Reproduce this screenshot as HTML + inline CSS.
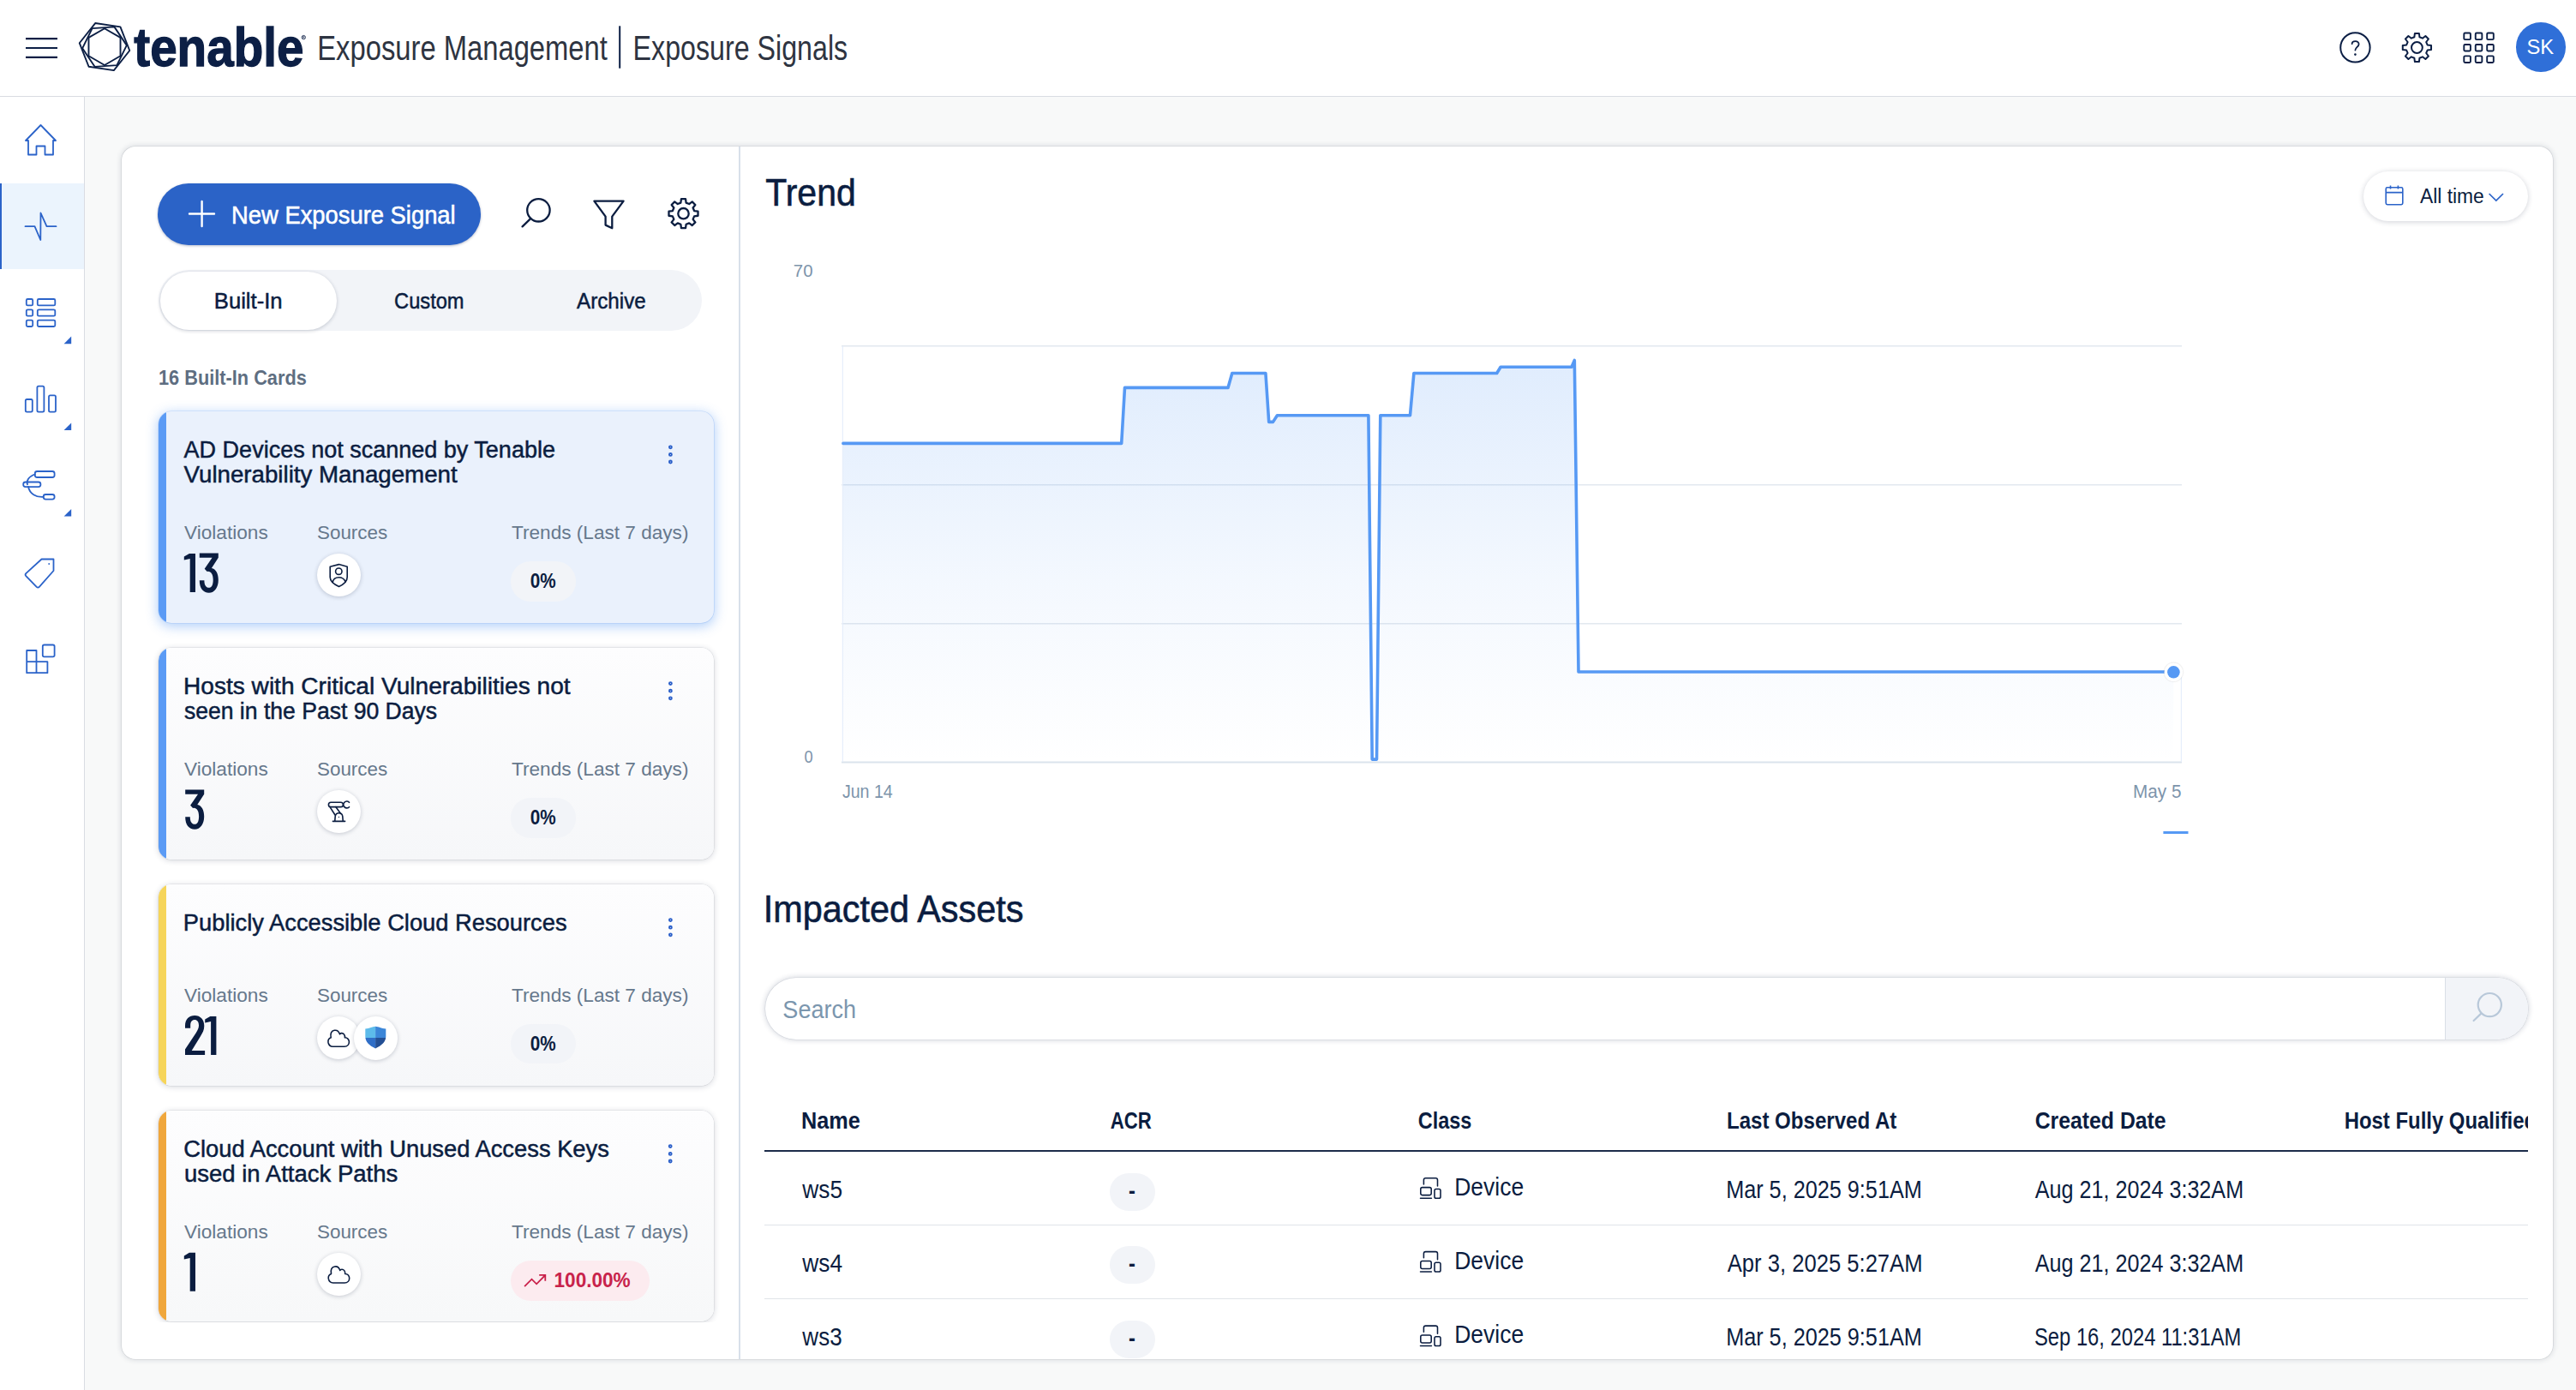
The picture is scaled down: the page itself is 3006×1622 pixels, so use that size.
<!DOCTYPE html>
<html><head><meta charset="utf-8"><title>Exposure Signals</title>
<style>
html,body{margin:0;padding:0;overflow:hidden;}
body{width:3006px;height:1622px;overflow:hidden;background:#f8f9f9;position:relative;font-family:"Liberation Sans",sans-serif;}
div{position:absolute;box-sizing:border-box;}
svg{position:absolute;left:0;top:0;}
</style></head><body>
<div style="left:0px;top:0px;width:3006px;height:112px;background:#fff"></div>
<div style="left:0px;top:112px;width:3006px;height:1px;background:#d9dce2"></div>
<div style="left:0px;top:113px;width:98px;height:1509px;background:#fff"></div>
<div style="left:98px;top:113px;width:1px;height:1509px;background:#d9dce2"></div>
<div style="left:0px;top:214px;width:98px;height:100px;background:#ebf4fd"></div>
<div style="left:0px;top:214px;width:1.6px;height:100px;background:#2b63c9"></div>
<div style="left:2936px;top:26px;width:57.5px;height:57.5px;background:#2f6fd8;border-radius:50%"></div>
<div style="left:142px;top:171px;width:2837px;height:1415px;background:#fff;border-radius:16px;box-shadow:0 0 0 0.6px rgba(30,40,60,0.12),0 0 6px 1px rgba(30,40,70,0.14)"></div>
<div style="left:862.3px;top:171px;width:1.6px;height:1415px;background:#d8e0ea"></div>
<div style="left:184px;top:214px;width:377px;height:72px;background:#2b63c7;border-radius:36px;box-shadow:0 1px 3px rgba(10,30,80,0.30)"></div>
<div style="left:185.3px;top:315.2px;width:633.3px;height:71.3px;background:#f2f4f8;border-radius:36px"></div>
<div style="left:186.8px;top:316.6px;width:206.2px;height:68.4px;background:#fff;border-radius:35px;box-shadow:0 1px 4px rgba(20,30,60,0.22)"></div>
<div style="left:142px;top:400px;width:720px;height:1142.6px;overflow:hidden"><div style="left:43px;top:80px;width:648px;height:247px;background:#eaf1fc;border-radius:15px;box-shadow:0 0 0 0.6px rgba(110,160,240,0.35),0 3px 14px 1px rgba(70,140,240,0.42);overflow:hidden"><div style="left:0;top:0;width:9.3px;height:247px;background:#5b9bf5"></div></div><div style="left:43px;top:356px;width:648px;height:247px;background:linear-gradient(#fdfdfe,#f6f7f9);border-radius:15px;box-shadow:0 0 0 0.6px rgba(30,40,60,0.10),0 1px 7px rgba(30,40,70,0.20);overflow:hidden"><div style="left:0;top:0;width:9.3px;height:247px;background:#5b9bf5"></div></div><div style="left:43px;top:632px;width:648px;height:235px;background:linear-gradient(#fdfdfe,#f6f7f9);border-radius:15px;box-shadow:0 0 0 0.6px rgba(30,40,60,0.10),0 1px 7px rgba(30,40,70,0.20);overflow:hidden"><div style="left:0;top:0;width:9.3px;height:235px;background:#f6d55a"></div></div><div style="left:43px;top:896px;width:648px;height:246.3px;background:linear-gradient(#fdfdfe,#f7f8f9);border-radius:15px;box-shadow:0 0 0 0.6px rgba(30,40,60,0.10),0 1px 7px rgba(30,40,70,0.20);overflow:hidden"><div style="left:0;top:0;width:9.3px;height:246.3px;background:#f0a73c"></div></div><div style="left:228.2px;top:245.7px;width:50.6px;height:50.6px;border-radius:50%;background:#fff;box-shadow:0 1px 5px rgba(20,30,60,0.22)"></div><div style="left:228.2px;top:521.7px;width:50.6px;height:50.6px;border-radius:50%;background:#fff;box-shadow:0 1px 5px rgba(20,30,60,0.22)"></div><div style="left:227.9px;top:785.7px;width:50.6px;height:50.6px;border-radius:50%;background:#fff;box-shadow:0 1px 5px rgba(20,30,60,0.22)"></div><div style="left:270.7px;top:785.5px;width:51.0px;height:51.0px;border-radius:50%;background:#fff;box-shadow:0 1px 5px rgba(20,30,60,0.22)"></div><div style="left:228.1px;top:1061.7px;width:50.6px;height:50.6px;border-radius:50%;background:#fff;box-shadow:0 1px 5px rgba(20,30,60,0.22)"></div><div style="left:454.4px;top:255.4px;width:75.4px;height:46.2px;border-radius:23.1px;background:#f2f4f8"></div><div style="left:454.4px;top:531.4px;width:75.4px;height:46.2px;border-radius:23.1px;background:#f2f4f8"></div><div style="left:454.4px;top:795.0px;width:75.4px;height:46.2px;border-radius:23.1px;background:#f2f4f8"></div><div style="left:453.8px;top:1071.0px;width:162.7px;height:46.8px;border-radius:23.4px;background:#fcebef"></div></div>
<div style="left:2758px;top:200px;width:192px;height:58.4px;background:#fff;border-radius:29.2px;box-shadow:0 1px 6px rgba(20,30,60,0.20)"></div>
<div style="left:892.5px;top:1141px;width:2057.5px;height:72.2px;background:#fff;border-radius:36px;box-shadow:0 0 0 0.6px rgba(40,55,90,0.10),0 0 6px 0.5px rgba(30,45,80,0.22);overflow:hidden"></div>
<div style="left:2853.4px;top:1141px;width:96.8px;height:72.2px;background:#f2f4f8;border-radius:0 36px 36px 0;border-left:1px solid #d9dfe7;box-sizing:border-box"></div>
<div style="left:892.2px;top:1342.4px;width:2058px;height:2px;background:#1c2c4a"></div>
<div style="left:892.2px;top:1429.2px;width:2058px;height:1.2px;background:#e0e4e9"></div>
<div style="left:892.2px;top:1515.1px;width:2058px;height:1.2px;background:#e0e4e9"></div>
<div style="left:1295px;top:1368.5px;width:52.5px;height:44px;background:#f2f4f8;border-radius:22px"></div>
<div style="left:1295px;top:1454.4px;width:52.5px;height:44px;background:#f2f4f8;border-radius:22px"></div>
<div style="left:1295px;top:1540.8px;width:52.5px;height:44px;background:#f2f4f8;border-radius:22px"></div>
<svg width="3006" height="1622" viewBox="0 0 3006 1622" font-family="Liberation Sans, sans-serif">
<defs><clipPath id="shc"><path d="M426.3,1200.6 C431.5,1200.2 434.5,1198 438.1,1197.8 C441.7,1198 444.7,1200.2 450.3,1200.6 L450.3,1209.5 C450.3,1215.5 445.5,1220 438.1,1223.4 C430.7,1220 426.3,1215.5 426.3,1209.5 Z"/></clipPath><clipPath id="tbl"><rect x="880" y="1280" width="2070" height="80"/></clipPath></defs>
<defs><linearGradient id="ag" x1="0" y1="420" x2="0" y2="889.5" gradientUnits="userSpaceOnUse"><stop offset="0" stop-color="#5a9cf5" stop-opacity="0.19"/><stop offset="0.55" stop-color="#5a9cf5" stop-opacity="0.07"/><stop offset="1" stop-color="#5b9af0" stop-opacity="0.0"/></linearGradient><radialGradient id="dsh"><stop offset="0.8" stop-color="#000" stop-opacity="0.10"/><stop offset="1" stop-color="#000" stop-opacity="0"/></radialGradient></defs>
<line x1="982" y1="403.8" x2="2546" y2="403.8" stroke="#e2e8ef" stroke-width="1.6"/>
<line x1="982" y1="565.8" x2="2546" y2="565.8" stroke="#e2e8ef" stroke-width="1.6"/>
<line x1="982" y1="727.7" x2="2546" y2="727.7" stroke="#e2e8ef" stroke-width="1.6"/>
<path d="M983.9,517.4 L1308.7,517.4 L1312.5,452.4 L1433,452.4 L1437.8,435.5 L1476.9,435.5 L1480.7,492.4 L1485.5,492.4 L1490.4,484.7 L1596.9,484.7 L1601.2,886.1 L1606.5,886.1 L1610.8,484.7 L1645.5,484.7 L1649.9,435.5 L1746.7,435.5 L1751.1,428.3 L1834,428.3 L1837.3,420.4 L1842,784 L2536.2,784 L2536.2,889.5 L983.9,889.5 Z" fill="url(#ag)"/>
<line x1="982" y1="889.6" x2="2546" y2="889.6" stroke="#dbe3ec" stroke-width="2"/>
<line x1="983.4" y1="404" x2="983.4" y2="889" stroke="#e6eefb" stroke-width="1.2"/>
<line x1="2545.4" y1="784" x2="2545.4" y2="889" stroke="#e6eefb" stroke-width="1.2"/>
<path d="M983.9,517.4 L1308.7,517.4 L1312.5,452.4 L1433,452.4 L1437.8,435.5 L1476.9,435.5 L1480.7,492.4 L1485.5,492.4 L1490.4,484.7 L1596.9,484.7 L1601.2,886.1 L1606.5,886.1 L1610.8,484.7 L1645.5,484.7 L1649.9,435.5 L1746.7,435.5 L1751.1,428.3 L1834,428.3 L1837.3,420.4 L1842,784 L2536.2,784" fill="none" stroke="#5699f4" stroke-width="3.6" stroke-linejoin="round" stroke-linecap="round"/>
<circle cx="2536.4" cy="784.3" r="12.5" fill="url(#dsh)"/><circle cx="2536.4" cy="784.3" r="10.8" fill="#ffffff"/><circle cx="2536.4" cy="784.3" r="7.3" fill="#5699f4"/>
<line x1="2524.4" y1="971.5" x2="2553.5" y2="971.5" stroke="#5699f4" stroke-width="3"/>
<line x1="30" y1="45.2" x2="67" y2="45.2" stroke="#0c1f45" stroke-width="2.2"/>
<line x1="30" y1="56" x2="67" y2="56" stroke="#0c1f45" stroke-width="2.2"/>
<line x1="30" y1="66.8" x2="67" y2="66.8" stroke="#0c1f45" stroke-width="2.2"/>
<path d="M151.27,58.98 L132.85,82.14 L103.57,77.77 L92.73,50.22 L111.15,27.06 L140.43,31.43 Z" fill="none" stroke="#0c1f45" stroke-width="1.9" stroke-linejoin="round"/>
<path d="M147.84,52.88 L136.41,76.12 L110.56,77.84 L96.16,56.32 L107.59,33.08 L133.44,31.36 Z" fill="none" stroke="#0c1f45" stroke-width="1.9" stroke-linejoin="round"/>
<path d="M140.53,65.30 L122.00,76.00 L103.47,65.30 L103.47,43.90 L122.00,33.20 L140.53,43.90 Z" fill="none" stroke="#0c1f45" stroke-width="1.9" stroke-linejoin="round"/>
<circle cx="354.3" cy="43.6" r="2.2" fill="none" stroke="#0c1f45" stroke-width="0.8"/><path d="M353.5,44.9 L353.5,42.4 L354.6,42.4 Q355.3,42.4 355.3,43.1 Q355.3,43.7 354.6,43.7 L353.5,43.7 M354.6,43.7 L355.4,44.9" fill="none" stroke="#0c1f45" stroke-width="0.55"/>
<rect x="722.2" y="30.3" width="2" height="49.4" fill="#0c1f45"/>
<circle cx="2748.4" cy="55.4" r="17.2" fill="none" stroke="#0c1f45" stroke-width="2"/>
<path d="M2744.6,51.2 C2744.6,47.4 2752.6,46.8 2752.6,51.4 C2752.6,54.6 2748.4,55.2 2748.4,58.6" fill="none" stroke="#0c1f45" stroke-width="1.8" stroke-linecap="round"/>
<circle cx="2748.4" cy="63.6" r="1.3" fill="#0c1f45"/>
<path d="M2832.63,52.45 L2837.02,53.02 L2837.02,57.98 L2832.63,58.55 L2831.20,61.99 L2833.90,65.49 L2830.39,69.00 L2826.89,66.30 L2823.45,67.73 L2822.88,72.12 L2817.92,72.12 L2817.35,67.73 L2813.91,66.30 L2810.41,69.00 L2806.90,65.49 L2809.60,61.99 L2808.17,58.55 L2803.78,57.98 L2803.78,53.02 L2808.17,52.45 L2809.60,49.01 L2806.90,45.51 L2810.41,42.00 L2813.91,44.70 L2817.35,43.27 L2817.92,38.88 L2822.88,38.88 L2823.45,43.27 L2826.89,44.70 L2830.39,42.00 L2833.90,45.51 L2831.20,49.01 Z" fill="none" stroke="#0c1f45" stroke-width="2" stroke-linejoin="round"/>
<circle cx="2820.4" cy="55.5" r="6.4" fill="none" stroke="#0c1f45" stroke-width="2"/>
<rect x="2875.30" y="38.50" width="7.6" height="7.6" rx="1.2" fill="none" stroke="#0c1f45" stroke-width="1.9"/>
<rect x="2875.30" y="51.95" width="7.6" height="7.6" rx="1.2" fill="none" stroke="#0c1f45" stroke-width="1.9"/>
<rect x="2875.30" y="65.40" width="7.6" height="7.6" rx="1.2" fill="none" stroke="#0c1f45" stroke-width="1.9"/>
<rect x="2888.75" y="38.50" width="7.6" height="7.6" rx="1.2" fill="none" stroke="#0c1f45" stroke-width="1.9"/>
<rect x="2888.75" y="51.95" width="7.6" height="7.6" rx="1.2" fill="none" stroke="#0c1f45" stroke-width="1.9"/>
<rect x="2888.75" y="65.40" width="7.6" height="7.6" rx="1.2" fill="none" stroke="#0c1f45" stroke-width="1.9"/>
<rect x="2902.20" y="38.50" width="7.6" height="7.6" rx="1.2" fill="none" stroke="#0c1f45" stroke-width="1.9"/>
<rect x="2902.20" y="51.95" width="7.6" height="7.6" rx="1.2" fill="none" stroke="#0c1f45" stroke-width="1.9"/>
<rect x="2902.20" y="65.40" width="7.6" height="7.6" rx="1.2" fill="none" stroke="#0c1f45" stroke-width="1.9"/>
<path d="M30,164 L47.5,146 L65,164 L62,164 L62,180.5 L52.5,180.5 L52.5,170.5 L42.5,170.5 L42.5,180.5 L33,180.5 L33,164 Z" fill="none" stroke="#2b63c9" stroke-width="1.8" stroke-linejoin="round" stroke-linecap="round"/>
<path d="M29.5,264.2 L40.5,264.2 L47.3,280 L47.5,248.5 L54.5,264.2 L65.5,264.2" fill="none" stroke="#2b63c9" stroke-width="1.8" stroke-linejoin="round" stroke-linecap="round"/>
<rect x="30.8" y="349.0" width="7.4" height="7.4" rx="1.5" fill="none" stroke="#2b63c9" stroke-width="1.8" stroke-linejoin="round" stroke-linecap="round"/>
<rect x="43.8" y="349.0" width="20.5" height="7.4" rx="1.5" fill="none" stroke="#2b63c9" stroke-width="1.8" stroke-linejoin="round" stroke-linecap="round"/>
<rect x="30.8" y="361.3" width="7.4" height="7.4" rx="1.5" fill="none" stroke="#2b63c9" stroke-width="1.8" stroke-linejoin="round" stroke-linecap="round"/>
<rect x="43.8" y="361.3" width="20.5" height="7.4" rx="1.5" fill="none" stroke="#2b63c9" stroke-width="1.8" stroke-linejoin="round" stroke-linecap="round"/>
<rect x="30.8" y="373.6" width="7.4" height="7.4" rx="1.5" fill="none" stroke="#2b63c9" stroke-width="1.8" stroke-linejoin="round" stroke-linecap="round"/>
<rect x="43.8" y="373.6" width="20.5" height="7.4" rx="1.5" fill="none" stroke="#2b63c9" stroke-width="1.8" stroke-linejoin="round" stroke-linecap="round"/>
<rect x="29.8" y="466" width="8" height="14.6" rx="1.6" fill="none" stroke="#2b63c9" stroke-width="1.8" stroke-linejoin="round" stroke-linecap="round"/>
<rect x="43.4" y="450.6" width="8" height="30" rx="1.6" fill="none" stroke="#2b63c9" stroke-width="1.8" stroke-linejoin="round" stroke-linecap="round"/>
<rect x="57" y="461.4" width="8" height="19.2" rx="1.6" fill="none" stroke="#2b63c9" stroke-width="1.8" stroke-linejoin="round" stroke-linecap="round"/>
<rect x="40.8" y="550" width="22.8" height="7" rx="2.5" fill="none" stroke="#2b63c9" stroke-width="1.8" stroke-linejoin="round" stroke-linecap="round"/>
<rect x="27.2" y="562.5" width="20.2" height="5.6" rx="2.5" fill="none" stroke="#2b63c9" stroke-width="1.8" stroke-linejoin="round" stroke-linecap="round"/>
<rect x="50.7" y="577" width="12.9" height="5.6" rx="2.5" fill="none" stroke="#2b63c9" stroke-width="1.8" stroke-linejoin="round" stroke-linecap="round"/>
<path d="M40.8,553.5 C33,556 30.5,562 32,565.3 M33,568 C34.5,576 42,580.5 50.7,579.8" fill="none" stroke="#2b63c9" stroke-width="1.8" stroke-linejoin="round" stroke-linecap="round"/>
<path d="M48.5,652.5 L62.5,652.5 L62.5,666 L45.8,684.8 Q44.3,686.3 42.7,684.8 L30.3,672.2 Q28.9,670.7 30.3,669.2 Z" fill="none" stroke="#2b63c9" stroke-width="1.8" stroke-linejoin="round" stroke-linecap="round"/>
<circle cx="57.2" cy="658" r="0.9" fill="#2b63c9"/>
<path d="M31.2,759 L42.5,759 L42.5,785.2 L31.2,785.2 Z M31.2,772.2 L55.4,772.2 L55.4,785.2 L42.5,785.2" fill="none" stroke="#2b63c9" stroke-width="1.8" stroke-linejoin="round" stroke-linecap="round"/>
<rect x="49.8" y="752.5" width="13.8" height="13.8" rx="1.8" fill="none" stroke="#2b63c9" stroke-width="1.8" stroke-linejoin="round" stroke-linecap="round"/>
<path d="M83.2,392.6 L83.2,401.2 L74.6,401.2 Z" fill="#2b63c9"/>
<path d="M83.2,493.4 L83.2,502.0 L74.6,502.0 Z" fill="#2b63c9"/>
<path d="M83.2,594.0 L83.2,602.6 L74.6,602.6 Z" fill="#2b63c9"/>
<circle cx="628.4" cy="245.3" r="13.2" fill="none" stroke="#0b1d40" stroke-width="2.3" stroke-linejoin="round" stroke-linecap="round"/>
<line x1="618.6" y1="255.6" x2="609.6" y2="264.4" fill="none" stroke="#0b1d40" stroke-width="2.3" stroke-linejoin="round" stroke-linecap="round"/>
<path d="M693.4,234.6 L727.6,234.6 L714.3,252.6 L714.3,266.3 L706.6,262.6 L706.6,252.6 Z" fill="none" stroke="#0b1d40" stroke-width="2.3" stroke-linejoin="round" stroke-linecap="round"/>
<path d="M810.11,246.06 L814.51,246.66 L814.51,251.74 L810.11,252.34 L808.64,255.90 L811.33,259.43 L807.73,263.03 L804.20,260.34 L800.64,261.81 L800.04,266.21 L794.96,266.21 L794.36,261.81 L790.80,260.34 L787.27,263.03 L783.67,259.43 L786.36,255.90 L784.89,252.34 L780.49,251.74 L780.49,246.66 L784.89,246.06 L786.36,242.50 L783.67,238.97 L787.27,235.37 L790.80,238.06 L794.36,236.59 L794.96,232.19 L800.04,232.19 L800.64,236.59 L804.20,238.06 L807.73,235.37 L811.33,238.97 L808.64,242.50 Z" fill="none" stroke="#0b1d40" stroke-width="2.3" stroke-linejoin="round" stroke-linecap="round"/>
<circle cx="797.5" cy="249.2" r="6.2" fill="none" stroke="#0b1d40" stroke-width="2.3" stroke-linejoin="round" stroke-linecap="round"/>
<path d="M235.6,235 L235.6,264 M221,249.5 L250,249.5" stroke="#ffffff" stroke-width="2.4" stroke-linecap="round"/>
<circle cx="782.4" cy="521.8" r="1.45" fill="none" stroke="#2a5fc9" stroke-width="1.9"/>
<circle cx="782.4" cy="530.4" r="1.45" fill="none" stroke="#2a5fc9" stroke-width="1.9"/>
<circle cx="782.4" cy="539.0" r="1.45" fill="none" stroke="#2a5fc9" stroke-width="1.9"/>
<circle cx="782.4" cy="797.6" r="1.45" fill="none" stroke="#2a5fc9" stroke-width="1.9"/>
<circle cx="782.4" cy="806.2" r="1.45" fill="none" stroke="#2a5fc9" stroke-width="1.9"/>
<circle cx="782.4" cy="814.8" r="1.45" fill="none" stroke="#2a5fc9" stroke-width="1.9"/>
<circle cx="782.4" cy="1073.6" r="1.45" fill="none" stroke="#2a5fc9" stroke-width="1.9"/>
<circle cx="782.4" cy="1082.2" r="1.45" fill="none" stroke="#2a5fc9" stroke-width="1.9"/>
<circle cx="782.4" cy="1090.8" r="1.45" fill="none" stroke="#2a5fc9" stroke-width="1.9"/>
<circle cx="782.2" cy="1337.6" r="1.45" fill="none" stroke="#2a5fc9" stroke-width="1.9"/>
<circle cx="782.2" cy="1346.4" r="1.45" fill="none" stroke="#2a5fc9" stroke-width="1.9"/>
<circle cx="782.2" cy="1355.0" r="1.45" fill="none" stroke="#2a5fc9" stroke-width="1.9"/>
<path d="M385.2,661.2 L395.5,658.6 L405.2,661.2 L405.2,673.5 C405.2,678.5 400.5,682.2 395.5,684.4 C390.5,682.2 385.2,678.5 385.2,673.5 Z" fill="none" stroke="#0b1d40" stroke-width="1.6" stroke-linejoin="round" stroke-linecap="round"/>
<circle cx="395.3" cy="666.7" r="3.7" fill="none" stroke="#0b1d40" stroke-width="1.6" stroke-linejoin="round" stroke-linecap="round"/>
<path d="M388.2,679.4 C389,675.5 391.5,673.8 395.4,673.8 C399.3,673.8 401.6,675.3 403,678.8" fill="none" stroke="#0b1d40" stroke-width="1.6" stroke-linejoin="round" stroke-linecap="round"/>
<rect x="383.4" y="936.2" width="17" height="5.4" rx="2.7" fill="none" stroke="#0b1d40" stroke-width="1.6" stroke-linejoin="round" stroke-linecap="round"/>
<path d="M407.5,936.4 C406.5,934.6 403.5,934.4 401.9,936.2 C400.3,938 400.4,940 401.9,941.6 C403.5,943.4 406.5,943.2 407.5,941.6" fill="none" stroke="#0b1d40" stroke-width="1.6" stroke-linejoin="round" stroke-linecap="round"/>
<path d="M385,941.6 L391,951 M391.8,941.6 L397.6,949.4" fill="none" stroke="#0b1d40" stroke-width="1.6" stroke-linejoin="round" stroke-linecap="round"/>
<path d="M390.8,957.6 L391.2,952.6 C391.8,949.5 394,948.8 395.5,948.8 C397.5,948.8 399.4,950 399.8,952.6 L400.2,957.6" fill="none" stroke="#0b1d40" stroke-width="1.6" stroke-linejoin="round" stroke-linecap="round"/>
<path d="M388.4,958.4 L402.6,958.4" fill="none" stroke="#0b1d40" stroke-width="1.6" stroke-linejoin="round" stroke-linecap="round"/>
<circle cx="395.4" cy="953.4" r="0.6" fill="#0b1d40"/>
<g transform="translate(0.00,0.00)"><path d="M388.4,1221.3 L401.8,1221.3 C405.5,1221.3 407.4,1218.5 407.4,1215.8 C407.4,1212.8 405,1210.5 402.4,1210.8 C402.8,1207.6 400.8,1205.4 398.5,1205.6 C397.4,1205.7 396.8,1206.2 396.5,1206.8 C395.4,1203.4 392.9,1201.8 390.2,1202.3 C386.6,1203 385.4,1206.4 386.2,1210.8 C383.7,1211.8 382.6,1214 383,1216.5 C383.6,1219.5 385.8,1221.3 388.4,1221.3 Z" fill="none" stroke="#0b1d40" stroke-width="1.6" stroke-linejoin="round" stroke-linecap="round"/></g>
<g transform="translate(0.30,275.70)"><path d="M388.4,1221.3 L401.8,1221.3 C405.5,1221.3 407.4,1218.5 407.4,1215.8 C407.4,1212.8 405,1210.5 402.4,1210.8 C402.8,1207.6 400.8,1205.4 398.5,1205.6 C397.4,1205.7 396.8,1206.2 396.5,1206.8 C395.4,1203.4 392.9,1201.8 390.2,1202.3 C386.6,1203 385.4,1206.4 386.2,1210.8 C383.7,1211.8 382.6,1214 383,1216.5 C383.6,1219.5 385.8,1221.3 388.4,1221.3 Z" fill="none" stroke="#0b1d40" stroke-width="1.6" stroke-linejoin="round" stroke-linecap="round"/></g>
<g clip-path="url(#shc)"><rect x="426" y="1197" width="12.1" height="14" fill="#5dbbea"/><rect x="438.1" y="1197" width="13" height="14" fill="#3b86d8"/><rect x="426" y="1211" width="12.1" height="13" fill="#2f6ec7"/><rect x="438.1" y="1211" width="13" height="13" fill="#234f94"/></g>
<path d="M612.1,1501.1 L620.5,1492.7 L626.1,1498.3 L636.3,1488 M629.2,1487.8 L636.3,1487.8 L636.3,1494.8" fill="none" stroke="#c9204a" stroke-width="1.8" stroke-linejoin="miter"/>
<rect x="2784.2" y="218.8" width="19.6" height="19.9" rx="1.6" fill="none" stroke="#2b63c9" stroke-width="1.6"/>
<path d="M2784.2,224.6 L2803.8,224.6 M2789.5,216.6 L2789.5,220.6 M2798.4,216.6 L2798.4,220.6" stroke="#2b63c9" stroke-width="1.6"/>
<path d="M2904.6,226 L2912.8,234 L2921,226" fill="none" stroke="#2b63c9" stroke-width="1.7"/>
<circle cx="2905.3" cy="1172.6" r="13.6" fill="none" stroke="#b8c8d9" stroke-width="2.2"/>
<line x1="2895.6" y1="1182.4" x2="2886.6" y2="1191" stroke="#b8c8d9" stroke-width="2.2" stroke-linecap="round"/>
<g transform="translate(0,0.00)"><path d="M1661.4,1382 L1661.4,1377 Q1661.4,1374.8 1663.6,1374.8 L1675.3,1374.8 Q1677.5,1374.8 1677.5,1377 L1677.5,1384" fill="none" stroke="#0b1d40" stroke-width="1.55" stroke-linecap="round" stroke-linejoin="round"/><rect x="1657.8" y="1385.6" width="12.4" height="9" rx="2" fill="none" stroke="#0b1d40" stroke-width="1.55" stroke-linecap="round" stroke-linejoin="round"/><path d="M1657.5,1398.2 L1670.4,1398.2" fill="none" stroke="#0b1d40" stroke-width="1.55" stroke-linecap="round" stroke-linejoin="round"/><rect x="1674" y="1387.4" width="7" height="10.8" rx="1.8" fill="none" stroke="#0b1d40" stroke-width="1.55" stroke-linecap="round" stroke-linejoin="round"/></g>
<g transform="translate(0,85.80)"><path d="M1661.4,1382 L1661.4,1377 Q1661.4,1374.8 1663.6,1374.8 L1675.3,1374.8 Q1677.5,1374.8 1677.5,1377 L1677.5,1384" fill="none" stroke="#0b1d40" stroke-width="1.55" stroke-linecap="round" stroke-linejoin="round"/><rect x="1657.8" y="1385.6" width="12.4" height="9" rx="2" fill="none" stroke="#0b1d40" stroke-width="1.55" stroke-linecap="round" stroke-linejoin="round"/><path d="M1657.5,1398.2 L1670.4,1398.2" fill="none" stroke="#0b1d40" stroke-width="1.55" stroke-linecap="round" stroke-linejoin="round"/><rect x="1674" y="1387.4" width="7" height="10.8" rx="1.8" fill="none" stroke="#0b1d40" stroke-width="1.55" stroke-linecap="round" stroke-linejoin="round"/></g>
<g transform="translate(0,172.30)"><path d="M1661.4,1382 L1661.4,1377 Q1661.4,1374.8 1663.6,1374.8 L1675.3,1374.8 Q1677.5,1374.8 1677.5,1377 L1677.5,1384" fill="none" stroke="#0b1d40" stroke-width="1.55" stroke-linecap="round" stroke-linejoin="round"/><rect x="1657.8" y="1385.6" width="12.4" height="9" rx="2" fill="none" stroke="#0b1d40" stroke-width="1.55" stroke-linecap="round" stroke-linejoin="round"/><path d="M1657.5,1398.2 L1670.4,1398.2" fill="none" stroke="#0b1d40" stroke-width="1.55" stroke-linecap="round" stroke-linejoin="round"/><rect x="1674" y="1387.4" width="7" height="10.8" rx="1.8" fill="none" stroke="#0b1d40" stroke-width="1.55" stroke-linecap="round" stroke-linejoin="round"/></g>
<path transform="translate(214.8,690.9)" d="M0,-41.4 L6.1,-45 L13.2,-45 L13.2,0 L6.9,0 L6.9,-38.9 L0,-37.3 Z" fill="#0b1d40"/>
<path transform="translate(232.8,691)" d="M0,-45.4 L22,-45.4 L22,-40.3 L14.1,-28.1 C19.3,-27 22,-21.5 22,-14.3 C22,-5.5 17.6,0.7 11,0.7 C4.4,0.7 0,-4.5 0,-13.8 L5.6,-13.8 C5.6,-8.3 7.6,-5.2 11,-5.2 C14.2,-5.2 15.9,-8.6 15.9,-14.3 C15.9,-20.4 13.6,-24.2 9.9,-24.2 L8.9,-24.1 L5.9,-27.2 L14.8,-40.3 L0,-40.3 Z" fill="#0b1d40"/>
<path transform="translate(216.2,967)" d="M0,-45.4 L22,-45.4 L22,-40.3 L14.1,-28.1 C19.3,-27 22,-21.5 22,-14.3 C22,-5.5 17.6,0.7 11,0.7 C4.4,0.7 0,-4.5 0,-13.8 L5.6,-13.8 C5.6,-8.3 7.6,-5.2 11,-5.2 C14.2,-5.2 15.9,-8.6 15.9,-14.3 C15.9,-20.4 13.6,-24.2 9.9,-24.2 L8.9,-24.1 L5.9,-27.2 L14.8,-40.3 L0,-40.3 Z" fill="#0b1d40"/>
<path transform="translate(216,1230.9)" d="M0,-31.1 L0,-34 C0,-41.5 4.8,-45.8 11.2,-45.8 C17.8,-45.8 22.3,-41 22.3,-33.8 C22.3,-29 20.5,-25.5 17.8,-21.5 L7.7,-4.9 L23.1,-4.9 L23.1,0 L0,0 L0,-6.3 L12.6,-25.5 C14.8,-29 16,-31.5 16,-34.5 C16,-38.5 14,-40.9 11.2,-40.9 C8,-40.9 6.2,-38.5 6.2,-34.5 L6.2,-31.1 Z" fill="#0b1d40"/>
<path transform="translate(239.2,1230.9)" d="M0,-41.4 L6.1,-45 L13.2,-45 L13.2,0 L6.9,0 L6.9,-38.9 L0,-37.3 Z" fill="#0b1d40"/>
<path transform="translate(214.8,1506.8)" d="M0,-41.4 L6.1,-45 L13.2,-45 L13.2,0 L6.9,0 L6.9,-38.9 L0,-37.3 Z" fill="#0b1d40"/>
<text x="156.30" y="76.50" font-size="62.5" fill="#0c1f45" font-weight="700" stroke="#0c1f45" stroke-width="1.3" textLength="198.09" lengthAdjust="spacingAndGlyphs">tenable</text>
<text x="370.24" y="69.90" font-size="40" fill="#2e3441" textLength="338.65" lengthAdjust="spacingAndGlyphs">Exposure Management</text>
<text x="738.58" y="69.90" font-size="40" fill="#2e3441" textLength="250.62" lengthAdjust="spacingAndGlyphs">Exposure Signals</text>
<text x="2948.52" y="63.00" font-size="24.3" fill="#ffffff" textLength="31.68" lengthAdjust="spacingAndGlyphs">SK</text>
<text x="270.11" y="261.00" font-size="29" fill="#ffffff" stroke="#ffffff" stroke-width="0.55" textLength="261.55" lengthAdjust="spacingAndGlyphs">New Exposure Signal</text>
<text x="249.77" y="360.30" font-size="26.6" fill="#0b1d40" stroke="#0b1d40" stroke-width="0.5" textLength="79.89" lengthAdjust="spacingAndGlyphs">Built-In</text>
<text x="460.11" y="360.30" font-size="26.6" fill="#0b1d40" stroke="#0b1d40" stroke-width="0.5" textLength="81.41" lengthAdjust="spacingAndGlyphs">Custom</text>
<text x="673.00" y="360.30" font-size="26.6" fill="#0b1d40" stroke="#0b1d40" stroke-width="0.5" textLength="80.72" lengthAdjust="spacingAndGlyphs">Archive</text>
<text x="184.96" y="448.80" font-size="23.2" fill="#5e6e81" font-weight="700" textLength="172.88" lengthAdjust="spacingAndGlyphs">16 Built-In Cards</text>
<text x="214.60" y="533.80" font-size="28.2" fill="#0b1d40" stroke="#0b1d40" stroke-width="0.5" textLength="433.35" lengthAdjust="spacingAndGlyphs">AD Devices not scanned by Tenable</text>
<text x="214.60" y="562.80" font-size="28.2" fill="#0b1d40" stroke="#0b1d40" stroke-width="0.5" textLength="319.03" lengthAdjust="spacingAndGlyphs">Vulnerability Management</text>
<text x="215.00" y="629.00" font-size="22.4" fill="#66788c" textLength="97.80" lengthAdjust="spacingAndGlyphs">Violations</text>
<text x="370.00" y="629.00" font-size="22.4" fill="#66788c" textLength="82.20" lengthAdjust="spacingAndGlyphs">Sources</text>
<text x="597.00" y="629.00" font-size="22.4" fill="#66788c" textLength="206.46" lengthAdjust="spacingAndGlyphs">Trends (Last 7 days)</text>
<text x="618.80" y="686.20" font-size="23" fill="#0b1d40" font-weight="700" textLength="29.91" lengthAdjust="spacingAndGlyphs">0%</text>
<text x="214.01" y="809.70" font-size="28.2" fill="#0b1d40" stroke="#0b1d40" stroke-width="0.5" textLength="451.62" lengthAdjust="spacingAndGlyphs">Hosts with Critical Vulnerabilities not</text>
<text x="214.90" y="838.80" font-size="28.2" fill="#0b1d40" stroke="#0b1d40" stroke-width="0.5" textLength="295.19" lengthAdjust="spacingAndGlyphs">seen in the Past 90 Days</text>
<text x="215.00" y="905.00" font-size="22.4" fill="#66788c" textLength="97.80" lengthAdjust="spacingAndGlyphs">Violations</text>
<text x="370.00" y="905.00" font-size="22.4" fill="#66788c" textLength="82.20" lengthAdjust="spacingAndGlyphs">Sources</text>
<text x="597.00" y="905.00" font-size="22.4" fill="#66788c" textLength="206.46" lengthAdjust="spacingAndGlyphs">Trends (Last 7 days)</text>
<text x="618.80" y="961.70" font-size="23" fill="#0b1d40" font-weight="700" textLength="29.91" lengthAdjust="spacingAndGlyphs">0%</text>
<text x="213.87" y="1085.80" font-size="28.2" fill="#0b1d40" stroke="#0b1d40" stroke-width="0.5" textLength="447.72" lengthAdjust="spacingAndGlyphs">Publicly Accessible Cloud Resources</text>
<text x="215.00" y="1168.60" font-size="22.4" fill="#66788c" textLength="97.80" lengthAdjust="spacingAndGlyphs">Violations</text>
<text x="370.00" y="1168.60" font-size="22.4" fill="#66788c" textLength="82.20" lengthAdjust="spacingAndGlyphs">Sources</text>
<text x="597.00" y="1168.60" font-size="22.4" fill="#66788c" textLength="206.46" lengthAdjust="spacingAndGlyphs">Trends (Last 7 days)</text>
<text x="618.80" y="1226.40" font-size="23" fill="#0b1d40" font-weight="700" textLength="29.91" lengthAdjust="spacingAndGlyphs">0%</text>
<text x="214.24" y="1349.50" font-size="28.2" fill="#0b1d40" stroke="#0b1d40" stroke-width="0.5" textLength="496.65" lengthAdjust="spacingAndGlyphs">Cloud Account with Unused Access Keys</text>
<text x="214.93" y="1378.70" font-size="28.2" fill="#0b1d40" stroke="#0b1d40" stroke-width="0.5" textLength="249.36" lengthAdjust="spacingAndGlyphs">used in Attack Paths</text>
<text x="215.00" y="1445.00" font-size="22.4" fill="#66788c" textLength="97.80" lengthAdjust="spacingAndGlyphs">Violations</text>
<text x="370.00" y="1445.00" font-size="22.4" fill="#66788c" textLength="82.20" lengthAdjust="spacingAndGlyphs">Sources</text>
<text x="597.00" y="1445.00" font-size="22.4" fill="#66788c" textLength="206.46" lengthAdjust="spacingAndGlyphs">Trends (Last 7 days)</text>
<text x="646.53" y="1502.00" font-size="23.3" fill="#c8234b" font-weight="700" textLength="89.19" lengthAdjust="spacingAndGlyphs">100.00%</text>
<text x="893.20" y="240.20" font-size="43.6" fill="#0b1d40" stroke="#0b1d40" stroke-width="0.6" textLength="105.61" lengthAdjust="spacingAndGlyphs">Trend</text>
<text x="2824.00" y="237.20" font-size="23.3" fill="#0b1d40" textLength="74.74" lengthAdjust="spacingAndGlyphs">All time</text>
<text x="925.89" y="322.70" font-size="20.3" fill="#7d94ab" textLength="22.69" lengthAdjust="spacingAndGlyphs">70</text>
<text x="938.40" y="889.80" font-size="20.3" fill="#7d94ab" textLength="10.15" lengthAdjust="spacingAndGlyphs">0</text>
<text x="982.90" y="931.20" font-size="21.5" fill="#7d94ab" textLength="58.86" lengthAdjust="spacingAndGlyphs">Jun 14</text>
<text x="2489.04" y="931.00" font-size="21.5" fill="#7d94ab" textLength="56.42" lengthAdjust="spacingAndGlyphs">May 5</text>
<text x="890.80" y="1075.70" font-size="44.4" fill="#0b1d40" stroke="#0b1d40" stroke-width="0.6" textLength="303.61" lengthAdjust="spacingAndGlyphs">Impacted Assets</text>
<text x="913.36" y="1187.70" font-size="28.8" fill="#7b96ae" textLength="85.69" lengthAdjust="spacingAndGlyphs">Search</text>
<text x="935.00" y="1317.30" font-size="28.2" fill="#0b1d40" font-weight="700" textLength="68.90" lengthAdjust="spacingAndGlyphs">Name</text>
<text x="1295.80" y="1317.30" font-size="28.2" fill="#0b1d40" font-weight="700" textLength="48.08" lengthAdjust="spacingAndGlyphs">ACR</text>
<text x="1654.77" y="1317.30" font-size="28.2" fill="#0b1d40" font-weight="700" textLength="62.60" lengthAdjust="spacingAndGlyphs">Class</text>
<text x="2014.95" y="1317.30" font-size="28.2" fill="#0b1d40" font-weight="700" textLength="198.33" lengthAdjust="spacingAndGlyphs">Last Observed At</text>
<text x="2374.72" y="1317.30" font-size="28.2" fill="#0b1d40" font-weight="700" textLength="152.87" lengthAdjust="spacingAndGlyphs">Created Date</text>
<text x="2735.65" y="1317.30" font-size="28.2" fill="#0b1d40" font-weight="700" clip-path="url(#tbl)" textLength="390.62" lengthAdjust="spacingAndGlyphs">Host Fully Qualified Domain Name</text>
<text x="936.37" y="1398.00" font-size="30.2" fill="#0b1d40" textLength="46.82" lengthAdjust="spacingAndGlyphs">ws5</text>
<text x="1697.20" y="1395.00" font-size="29.5" fill="#0b1d40" textLength="80.96" lengthAdjust="spacingAndGlyphs">Device</text>
<text x="2014.13" y="1398.00" font-size="30.2" fill="#0b1d40" textLength="228.67" lengthAdjust="spacingAndGlyphs">Mar 5, 2025 9:51AM</text>
<text x="2374.80" y="1398.00" font-size="30.2" fill="#0b1d40" textLength="243.29" lengthAdjust="spacingAndGlyphs">Aug 21, 2024 3:32AM</text>
<text x="1316.95" y="1398.50" font-size="28" fill="#0b1d40" font-weight="700" textLength="7.93" lengthAdjust="spacingAndGlyphs">-</text>
<text x="936.37" y="1483.80" font-size="30.2" fill="#0b1d40" textLength="46.82" lengthAdjust="spacingAndGlyphs">ws4</text>
<text x="1697.20" y="1480.80" font-size="29.5" fill="#0b1d40" textLength="80.96" lengthAdjust="spacingAndGlyphs">Device</text>
<text x="2015.80" y="1483.80" font-size="30.2" fill="#0b1d40" textLength="227.72" lengthAdjust="spacingAndGlyphs">Apr 3, 2025 5:27AM</text>
<text x="2374.80" y="1483.80" font-size="30.2" fill="#0b1d40" textLength="243.29" lengthAdjust="spacingAndGlyphs">Aug 21, 2024 3:32AM</text>
<text x="1316.95" y="1484.30" font-size="28" fill="#0b1d40" font-weight="700" textLength="7.93" lengthAdjust="spacingAndGlyphs">-</text>
<text x="936.36" y="1570.30" font-size="30.2" fill="#0b1d40" textLength="46.32" lengthAdjust="spacingAndGlyphs">ws3</text>
<text x="1697.20" y="1567.30" font-size="29.5" fill="#0b1d40" textLength="80.96" lengthAdjust="spacingAndGlyphs">Device</text>
<text x="2014.13" y="1570.30" font-size="30.2" fill="#0b1d40" textLength="228.67" lengthAdjust="spacingAndGlyphs">Mar 5, 2025 9:51AM</text>
<text x="2374.01" y="1570.30" font-size="30.2" fill="#0b1d40" textLength="241.28" lengthAdjust="spacingAndGlyphs">Sep 16, 2024 11:31AM</text>
<text x="1316.95" y="1570.80" font-size="28" fill="#0b1d40" font-weight="700" textLength="7.93" lengthAdjust="spacingAndGlyphs">-</text>
</svg>
<script>(function(){var s=window.innerWidth/3006;if(s>0&&Math.abs(s-1)>0.01){document.documentElement.style.zoom=s;}})();</script>
</body></html>
